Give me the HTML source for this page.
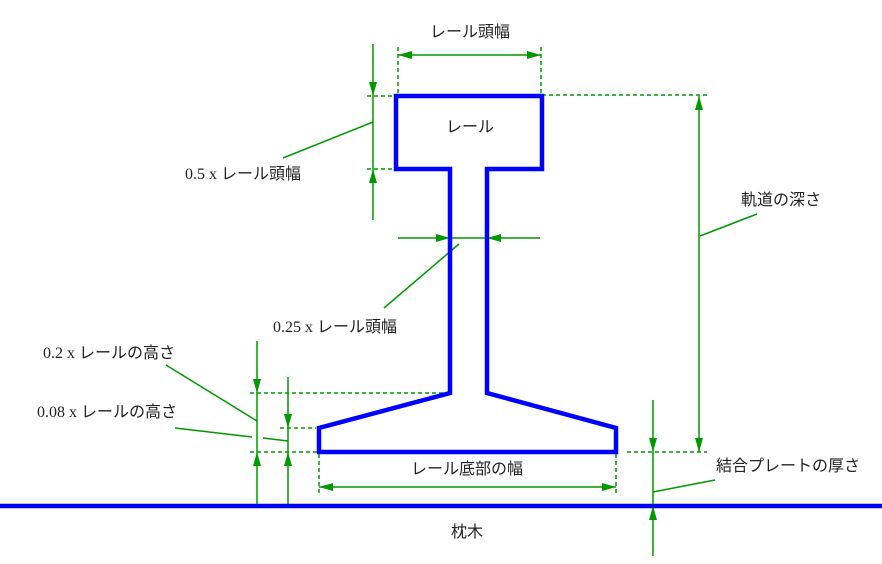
<!DOCTYPE html>
<html><head><meta charset="utf-8"><style>
html,body{margin:0;padding:0;background:#fff;}
svg{display:block;}
text{font-family:"Liberation Serif","Noto Sans CJK JP",serif;font-size:16px;fill:#222;}
</style></head><body>
<svg width="882" height="564" viewBox="0 0 882 564" xmlns="http://www.w3.org/2000/svg">
<g stroke="#009900" stroke-width="1.5" fill="none">
  <!-- dashed extension lines -->
  <g stroke-dasharray="4,3">
    <line x1="398" y1="47" x2="398" y2="96"/>
    <line x1="541" y1="47" x2="541" y2="96"/>
    <line x1="542" y1="95" x2="707" y2="95"/>
    <line x1="367" y1="96" x2="394" y2="96"/>
    <line x1="367" y1="169" x2="394" y2="169"/>
    <line x1="250" y1="393" x2="443" y2="393"/>
    <line x1="280" y1="428" x2="316" y2="428"/>
    <line x1="250" y1="452" x2="317" y2="452"/>
    <line x1="319" y1="454" x2="319" y2="493"/>
    <line x1="616" y1="454" x2="616" y2="493"/>
    <line x1="627" y1="452" x2="707" y2="452"/>
  </g>
  <!-- dimension lines -->
  <line x1="398" y1="55" x2="541" y2="55"/>
  <line x1="373" y1="44" x2="373" y2="220"/>
  <line x1="398" y1="238" x2="540" y2="238"/>
  <line x1="257" y1="341" x2="257" y2="505"/>
  <line x1="288" y1="377" x2="288" y2="505"/>
  <line x1="319" y1="487" x2="616" y2="487"/>
  <line x1="699" y1="96" x2="699" y2="452"/>
  <line x1="653" y1="400" x2="653" y2="556"/>
  <!-- leaders -->
  <line x1="373" y1="122" x2="283" y2="158"/>
  <line x1="459" y1="244" x2="384" y2="308"/>
  <line x1="166" y1="365" x2="257" y2="421"/>
  <line x1="175" y1="428" x2="252" y2="437"/>
  <line x1="263" y1="438" x2="288" y2="441"/>
  <line x1="700" y1="236" x2="757" y2="214"/>
  <line x1="653" y1="492" x2="715" y2="480"/>
</g>
<g fill="#009900">
  <!-- head width arrows -->
  <polygon points="398,55 412,51 412,59"/>
  <polygon points="541,55 527,51 527,59"/>
  <!-- 0.5 -->
  <polygon points="373,96 369,82 377,82"/>
  <polygon points="373,169 369,183 377,183"/>
  <!-- 0.25 -->
  <polygon points="450,238 436,234 436,242"/>
  <polygon points="487,238 501,234 501,242"/>
  <!-- 0.2 -->
  <polygon points="257,393 253,379 261,379"/>
  <polygon points="257,452 253,466 261,466"/>
  <!-- 0.08 -->
  <polygon points="288,428 284,414 292,414"/>
  <polygon points="288,452 284,466 292,466"/>
  <!-- bottom width -->
  <polygon points="319,487 333,483 333,491"/>
  <polygon points="616,487 602,483 602,491"/>
  <!-- depth -->
  <polygon points="699,96 695,110 703,110"/>
  <polygon points="699,452 695,438 703,438"/>
  <!-- plate -->
  <polygon points="653,452 649,438 657,438"/>
  <polygon points="653,506 649,520 657,520"/>
</g>
<!-- rail -->
<path d="M396,96 L542,96 L542,169 L487,169 L487,393 L616,428 L616,452 L319,452 L319,428 L450,393 L450,169 L396,169 Z" fill="none" stroke="#0000ff" stroke-width="4.5" stroke-linejoin="miter"/>
<line x1="0" y1="506" x2="882" y2="506" stroke="#0000ff" stroke-width="4.5"/>
<!-- labels -->
<text x="470" y="37" text-anchor="middle">レール頭幅</text>
<text x="470" y="132" text-anchor="middle">レール</text>
<text x="185" y="179">0.5 x レール頭幅</text>
<text x="273" y="332">0.25 x レール頭幅</text>
<text x="43" y="358">0.2 x レールの高さ</text>
<text x="37" y="417">0.08 x レールの高さ</text>
<text x="467" y="474" text-anchor="middle">レール底部の幅</text>
<text x="467" y="537" text-anchor="middle">枕木</text>
<text x="741" y="205">軌道の深さ</text>
<text x="716" y="471">結合プレートの厚さ</text>
</svg>
</body></html>
